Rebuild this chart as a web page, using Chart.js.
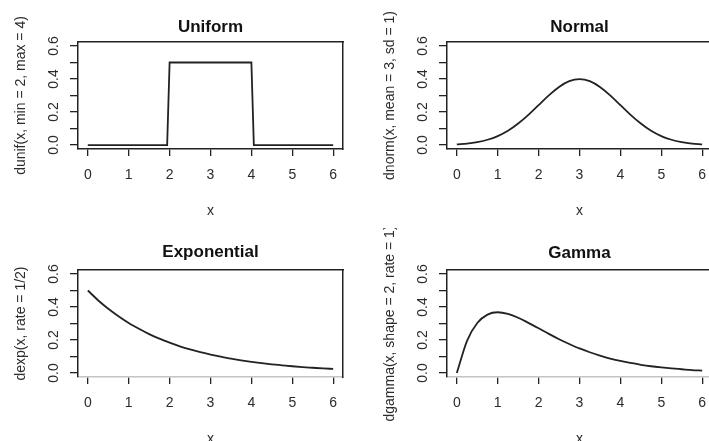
<!DOCTYPE html>
<html>
<head>
<meta charset="utf-8">
<script src="https://cdn.jsdelivr.net/npm/chart.js@4/dist/chart.umd.min.js"></script>
<style>
  html, body { margin: 0; padding: 0; background: #ffffff; width: 709px; height: 441px; overflow: hidden; position: relative; }
  .panel { position: absolute; width: 354px; height: 220px; }
  .panel canvas { display: block; }
</style>
</head>
<body>
<div class="panel" style="left:0px;top:0px"><canvas id="c1" width="354" height="220"></canvas></div>
<div class="panel" style="left:369px;top:0px"><canvas id="c2" width="354" height="220"></canvas></div>
<div class="panel" style="left:0px;top:228px"><canvas id="c3" width="354" height="220"></canvas></div>
<div class="panel" style="left:369px;top:228px"><canvas id="c4" width="354" height="220"></canvas></div>
<script>
// ---- data ----
const panelTitles = ['Uniform', 'Normal', 'Exponential', 'Gamma'];
const yAxisTitles = ['dunif(x, min = 2, max = 4)', 'dnorm(x, mean = 3, sd = 1)', 'dexp(x, rate = 1/2)', 'dgamma(x, shape = 2, rate = 1)'];
const xTickValues = [0, 1, 2, 3, 4, 5, 6];
const yTickValues = [0, 0.1, 0.2, 0.3, 0.4, 0.5, 0.6];
const yTickLabels = ['0.0', '', '0.2', '', '0.4', '', '0.6'];

const uniformX = [0, 1.94, 2.0, 4.0, 4.06, 6];
const uniformY = [0, 0, 0.5, 0.5, 0, 0];

const curveX = [0, 0.25, 0.5, 0.75, 1, 1.25, 1.5, 1.75, 2, 2.25, 2.5, 2.75, 3,
                3.25, 3.5, 3.75, 4, 4.25, 4.5, 4.75, 5, 5.25, 5.5, 5.75, 6];
const normalY = [0.004, 0.009, 0.018, 0.032, 0.054, 0.086, 0.130, 0.183, 0.242, 0.301, 0.352, 0.387, 0.399,
                 0.387, 0.352, 0.301, 0.242, 0.183, 0.130, 0.086, 0.054, 0.032, 0.018, 0.009, 0.004];
const expY = [0.500, 0.441, 0.389, 0.344, 0.303, 0.268, 0.236, 0.208, 0.184, 0.162, 0.143, 0.126, 0.112,
              0.099, 0.087, 0.077, 0.068, 0.060, 0.053, 0.047, 0.041, 0.036, 0.032, 0.028, 0.025];
const gammaY = [0.000, 0.195, 0.303, 0.354, 0.368, 0.358, 0.335, 0.304, 0.271, 0.237, 0.205, 0.176, 0.149,
                0.126, 0.106, 0.088, 0.073, 0.061, 0.050, 0.041, 0.034, 0.028, 0.023, 0.018, 0.015];

// ---- drawing ----
const FONT = "'Liberation Sans', Arial, Helvetica, sans-serif";
const INK = '#222222';
const TEXT = '#2b2b2b';

function pts(xs, ys) { return xs.map((x, i) => ({ x: x, y: ys[i] })); }

function makeChart(id, title, yTitle, xs, ys, smooth, opts) {
  const ctx = document.getElementById(id).getContext('2d');
  return new Chart(ctx, {
    type: 'line',
    data: {
      datasets: [{
        data: pts(xs, ys),
        borderColor: INK,
        borderWidth: 1.8,
        pointRadius: 0,
        fill: false,
        tension: 0,
        cubicInterpolationMode: smooth ? 'monotone' : 'default'
      }]
    },
    options: {
      responsive: false,
      animation: false,
      devicePixelRatio: 1,
      events: [],
      layout: { padding: 0 },
      plugins: { legend: { display: false }, tooltip: { enabled: false }, title: { display: false } },
      scales: {
        x: {
          type: 'linear', position: 'bottom', display: true,
          min: -0.24, max: 6.24,
          afterBuildTicks: a => { a.ticks = xTickValues.map(v => ({ value: v })); },
          afterFit: s => { s.height = 71; },
          ticks: { autoSkip: false, padding: 11, color: TEXT, font: { family: FONT, size: 14 },
                   callback: v => String(v) },
          grid: { drawOnChartArea: false, drawTicks: true, tickLength: 7, color: INK, lineWidth: 1.3 },
          border: { display: true, color: opts.bottomBorder, width: 1.5 },
          title: { display: true, text: 'x', color: TEXT, font: { family: FONT, size: 14 },
                   padding: { top: 0, bottom: 0 } }
        },
        y: {
          type: 'linear', position: 'left', display: true,
          min: -0.024, max: 0.624,
          afterBuildTicks: a => { a.ticks = yTickValues.map(v => ({ value: v })); },
          afterFit: s => { s.width = 78; },
          ticks: { autoSkip: false, minRotation: 90, maxRotation: 90, crossAlign: 'center', padding: 6,
                   color: TEXT, font: { family: FONT, size: 14 },
                   callback: (v, i) => yTickLabels[i] },
          grid: { drawOnChartArea: false, drawTicks: true, tickLength: 8, color: INK, lineWidth: 1.3 },
          border: { display: true, color: INK, width: 1.5 },
          title: { display: true, text: yTitle, color: TEXT, font: { family: FONT, size: 14 },
                   padding: { top: 12.5, bottom: 0 } }
        },
        x2: {
          type: 'linear', position: 'top', display: true,
          min: -0.24, max: 6.24,
          afterBuildTicks: a => { a.ticks = []; },
          afterFit: s => { s.height = 42; },
          ticks: { display: false },
          grid: { drawOnChartArea: false, drawTicks: false },
          border: { display: true, color: INK, width: 1.5 },
          title: { display: true, text: title, color: '#111111',
                   font: { family: FONT, size: 17, weight: 'bold' },
                   padding: { top: opts.titleTop, bottom: 0 } }
        },
        y2: {
          type: 'linear', position: 'right', display: true,
          min: -0.024, max: 0.624,
          afterBuildTicks: a => { a.ticks = []; },
          afterFit: s => { s.width = 11; },
          ticks: { display: false },
          grid: { drawOnChartArea: false, drawTicks: false },
          border: { display: true, color: INK, width: 1.5 }
        }
      }
    }
  });
}

makeChart('c1', panelTitles[0], yAxisTitles[0], uniformX, uniformY, false, { titleTop: 17, bottomBorder: INK });
makeChart('c2', panelTitles[1], yAxisTitles[1], curveX, normalY, true, { titleTop: 17, bottomBorder: INK });
makeChart('c3', panelTitles[2], yAxisTitles[2], curveX, expY, true, { titleTop: 14.5, bottomBorder: '#c4c4c4' });
makeChart('c4', panelTitles[3], yAxisTitles[3], curveX, gammaY, true, { titleTop: 15, bottomBorder: '#c4c4c4' });
</script>
</body>
</html>
